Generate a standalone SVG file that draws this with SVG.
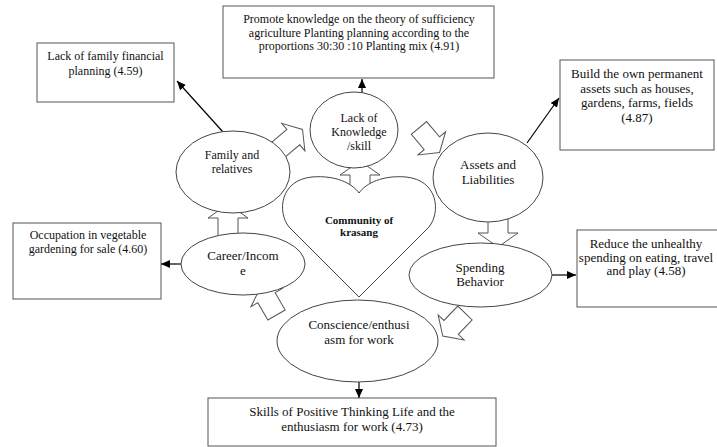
<svg xmlns="http://www.w3.org/2000/svg" width="717" height="447" viewBox="0 0 717 447">
<defs>
<style>
.box{fill:#fff;stroke:#555;stroke-width:1}
.ell{fill:#fff;stroke:#444;stroke-width:1}
.blk{fill:#fff;stroke:#555;stroke-width:1}
.ln{fill:none;stroke:#000;stroke-width:1.2}
text{font-family:"Liberation Serif","Times New Roman",serif;fill:#111;text-anchor:middle}
.t12{font-size:12px}
.t13{font-size:13px}
.b11{font-size:11px;font-weight:bold}
</style>
<marker id="ah" markerUnits="userSpaceOnUse" markerWidth="9" markerHeight="8" refX="9" refY="4" orient="auto">
<path d="M0,0 L9,4 L0,8 z" fill="#000"/>
</marker>
</defs>
<rect width="717" height="447" fill="#fff"/>

<g id="block-arrows">
<polygon class="blk" transform="translate(278,150) rotate(-40)" points="0,-10 20,-10 20,-18 32,0 20,18 20,10 0,10"/>
<polygon class="blk" transform="translate(419,128) rotate(50)" points="0,-10 20,-10 20,-18 32,0 20,18 20,10 0,10"/>
<polygon class="blk" transform="translate(465,313) rotate(134)" points="0,-10 20,-10 20,-18 32,0 20,18 20,10 0,10"/>
<polygon class="blk" transform="translate(276.5,315) rotate(-120)" points="0,-10 20,-10 20,-18 32,0 20,18 20,10 0,10"/>
<polygon class="blk" points="350,198 350,175 340,175 360,161 380,175 370,175 370,198"/>
<polygon class="blk" points="218,238 218,218 208,218 228,204 248,218 238,218 238,238"/>
<polygon class="blk" points="488,216 488,233 478,233 498,247 518,233 508,233 508,216"/>
</g>

<g id="connectors">
<line class="ln" x1="223" y1="132" x2="177" y2="81" marker-end="url(#ah)"/>
<line class="ln" x1="362" y1="93" x2="362" y2="79" marker-end="url(#ah)"/>
<line class="ln" x1="527" y1="143" x2="559" y2="98" marker-end="url(#ah)"/>
<line class="ln" x1="552" y1="275" x2="576" y2="275" marker-end="url(#ah)"/>
<line class="ln" x1="192" y1="264" x2="161" y2="264" marker-end="url(#ah)"/>
<line class="ln" x1="359" y1="382" x2="359" y2="398" marker-end="url(#ah)"/>
</g>

<g id="heart">
<path class="ell" d="M359,297 L289,227 C277,212 280,180 312,177 C335,175 352,183 359,193 C366,183 383,175 406,177 C438,180 441,212 429,227 Z"/>
<text class="b11" x="359" y="224">Community of</text>
<text class="b11" x="359" y="236">krasang</text>
</g>

<g id="family">
<ellipse class="ell" cx="233" cy="172" rx="57" ry="41"/>
<text class="t12" x="232" y="159">Family and</text>
<text class="t12" x="232" y="173">relatives</text>
</g>

<g id="lack-knowledge">
<ellipse class="ell" cx="354" cy="130" rx="44" ry="38"/>
<text class="t12" x="359" y="122">Lack of</text>
<text class="t12" x="359" y="136">Knowledge</text>
<text class="t12" x="359" y="150">/skill</text>
</g>

<g id="assets">
<ellipse class="ell" cx="488" cy="177.5" rx="55" ry="44.5"/>
<text class="t13" x="488" y="168.5">Assets and</text>
<text class="t13" x="488" y="183.5">Liabilities</text>
</g>

<g id="spending">
<ellipse class="ell" cx="480.5" cy="275" rx="71.5" ry="32"/>
<text class="t13" x="480" y="271.5">Spending</text>
<text class="t13" x="480" y="285.5">Behavior</text>
</g>

<g id="conscience">
<ellipse class="ell" cx="357.5" cy="341" rx="80.5" ry="41"/>
<text class="t13" x="359" y="328.5">Conscience/enthusi</text>
<text class="t13" x="359" y="343.5">asm for work</text>
</g>

<g id="career">
<ellipse class="ell" cx="243" cy="264" rx="62" ry="31"/>
<text class="t13" x="243" y="260">Career/Incom</text>
<text class="t13" x="243" y="275">e</text>
</g>

<g id="box-promote">
<rect class="box" x="223" y="6" width="271" height="72"/>
<text class="t12" x="359" y="23">Promote knowledge on the theory of sufficiency</text>
<text class="t12" x="359" y="36.5">agriculture Planting planning according to the</text>
<text class="t12" x="359" y="50">proportions 30:30 :10 Planting mix (4.91)</text>
</g>

<g id="box-family-planning">
<rect class="box" x="37" y="43" width="137" height="59"/>
<text class="t12" x="105.5" y="60">Lack of family financial</text>
<text class="t12" x="105.5" y="74.5">planning (4.59)</text>
</g>

<g id="box-build">
<rect class="box" x="560" y="60" width="154" height="90"/>
<text class="t13" x="637" y="78">Build the own permanent</text>
<text class="t13" x="637" y="92.5">assets such as houses,</text>
<text class="t13" x="637" y="107">gardens, farms, fields</text>
<text class="t13" x="637" y="122">(4.87)</text>
</g>

<g id="box-occupation">
<rect class="box" x="13" y="223" width="148" height="76"/>
<text class="t12" x="88" y="239">Occupation in vegetable</text>
<text class="t12" x="88" y="253">gardening for sale (4.60)</text>
</g>

<g id="box-reduce">
<rect class="box" x="577" y="230" width="141" height="77"/>
<text class="t13" x="646" y="247.5">Reduce the unhealthy</text>
<text class="t13" x="646" y="261.5">spending on eating, travel</text>
<text class="t13" x="646" y="275">and play (4.58)</text>
</g>

<g id="box-skills">
<rect class="box" x="208" y="398" width="288" height="48"/>
<text class="t13" x="352" y="415.5">Skills of Positive Thinking Life and the</text>
<text class="t13" x="352" y="431">enthusiasm for work (4.73)</text>
</g>
</svg>
